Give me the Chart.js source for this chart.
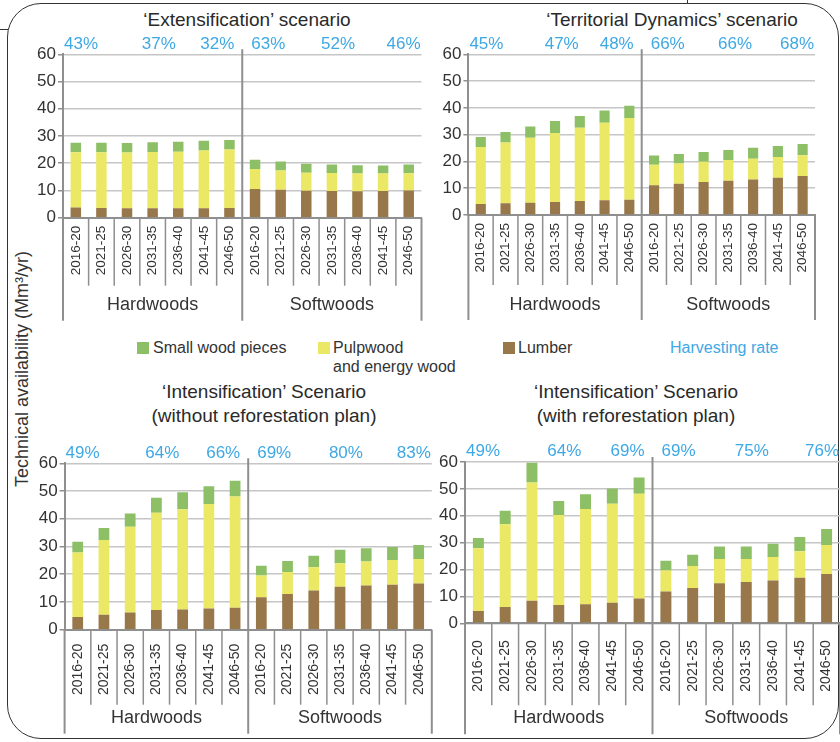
<!DOCTYPE html>
<html><head><meta charset="utf-8">
<script src="https://cdn.jsdelivr.net/npm/chart.js@4.4.1/dist/chart.umd.min.js"></script>
<style>
html,body{margin:0;padding:0;background:#fff;}
body{width:840px;height:742px;overflow:hidden;position:relative;font-family:"Liberation Sans",Arial,sans-serif;color:#333;}
canvas{position:absolute;left:0;top:0;}
.frame{position:absolute;left:7px;top:3px;width:832px;height:736px;box-sizing:border-box;border:1.5px solid #333;border-radius:34px;}
.t{position:absolute;white-space:nowrap;transform:translateX(-50%);font-size:19px;line-height:22px;color:#2a2a2a;}
.sq{position:absolute;width:12px;height:12px;}
.lt{position:absolute;white-space:nowrap;font-size:16px;line-height:18px;color:#333;}
.ytitle{position:absolute;left:22px;top:369px;white-space:nowrap;font-size:18px;color:#333;transform:translate(-50%,-50%) rotate(-90deg);}
</style>
</head><body>
<div class="frame"></div>
<div style="position:absolute;left:0;top:29px;width:8px;height:0;border-top:1.5px solid #333"></div>
<div style="position:absolute;left:687px;top:0;width:0;height:4px;border-left:1.5px solid #333"></div>

<div class="t" style="left:247px;top:9px">‘Extensification’ scenario</div>
<div class="t" style="left:672px;top:9px">‘Territorial Dynamics’ scenario</div>
<div class="t" style="left:264px;top:381px">‘Intensification’ Scenario</div>
<div class="t" style="left:264px;top:405px">(without reforestation plan)</div>
<div class="t" style="left:636px;top:381px">‘Intensification’ Scenario</div>
<div class="t" style="left:636px;top:405px">(with reforestation plan)</div>

<div class="ytitle">Technical availability (Mm³/yr)</div>

<div id="legend"></div>

<canvas id="c1" width="840" height="742"></canvas>
<canvas id="c2" width="840" height="742"></canvas>
<canvas id="c3" width="840" height="742"></canvas>
<canvas id="c4" width="840" height="742"></canvas>

<script>
// ---------- DATA ----------
const periods = ['2016-20','2021-25','2026-30','2031-35','2036-40','2041-45','2046-50'];
const woodGroups = ['Hardwoods','Softwoods'];
const seriesNames = ['Lumber','Pulpwood and energy wood','Small wood pieces'];
const legendLabels = ['Small wood pieces','Pulpwood','and energy wood','Lumber','Harvesting rate'];

// 'Extensification' scenario (7 hardwood periods, then 7 softwood periods)
const extLumber = [3.7,3.6,3.5,3.5,3.5,3.5,3.6, 10.5,10.3,9.9,9.8,9.7,9.8,10.0];
const extPulp   = [20.3,20.4,20.4,20.6,20.7,21.2,21.4, 7.4,7.0,6.6,6.6,6.5,6.4,6.3];
const extSmall  = [3.5,3.5,3.5,3.6,3.7,3.6,3.5, 3.4,3.3,3.3,3.1,3.1,3.0,3.2];
const extRates  = ['43%','37%','32%','63%','52%','46%'];

// 'Territorial Dynamics' scenario
const terLumber = [4.1,4.4,4.6,4.9,5.2,5.5,5.7, 11.1,11.7,12.3,12.8,13.3,13.9,14.6];
const terPulp   = [21.3,22.7,24.2,25.7,27.4,28.9,30.5, 7.7,7.5,7.6,7.7,7.7,7.8,7.7];
const terSmall  = [3.7,3.9,4.2,4.5,4.4,4.6,4.6, 3.4,3.6,3.6,3.8,4.1,4.1,4.2];
const terRates  = ['45%','47%','48%','66%','66%','68%'];

// 'Intensification' scenario (without reforestation plan)
const intLumber = [4.6,5.4,6.2,7.1,7.3,7.6,7.9, 11.7,12.9,14.1,15.5,15.9,16.2,16.7];
const intPulp   = [23.2,26.9,30.9,35.1,36.1,37.7,40.1, 7.8,7.9,8.4,8.5,8.7,8.9,8.8];
const intSmall  = [3.9,4.4,4.8,5.4,6.2,6.4,5.7, 3.6,4.0,4.2,4.8,4.8,4.7,5.0];
const intRates  = ['49%','64%','66%','69%','80%','83%'];

// 'Intensification' scenario (with reforestation plan)
const refLumber = [4.6,6.1,8.4,6.8,7.1,7.6,9.2, 11.8,13.1,14.9,15.4,15.9,16.9,18.3];
const refPulp   = [23.3,30.7,44.0,33.5,35.4,36.9,39.0, 7.8,8.2,9.0,8.5,8.8,9.9,10.8];
const refSmall  = [3.8,5.1,7.3,5.2,5.5,5.6,6.0, 3.7,4.2,4.7,4.7,4.9,5.3,6.0];
const refRates  = ['49%','64%','69%','69%','75%','76%'];

const yTicks = [0,10,20,30,40,50,60];

// ---------- STYLE ----------
const COLORS = {lumber:'#98774a', pulp:'#ebe866', small:'#8cbf66', rate:'#3ea8e5', text:'#333'};
const FONT = '"Liberation Sans", Arial, sans-serif';
Chart.defaults.font.family = FONT;
Chart.defaults.color = COLORS.text;

// legend (HTML)
(function(){
  const lg = document.getElementById('legend');
  const items = [
    {sq:[137,342,COLORS.small]},{txt:[153,339,legendLabels[0]]},
    {sq:[318,342,COLORS.pulp]},{txt:[333,339,legendLabels[1]]},{txt:[333,358,legendLabels[2]]},
    {sq:[503,342,COLORS.lumber]},{txt:[518,339,legendLabels[3]]},
    {txt:[670,339,legendLabels[4],COLORS.rate]}
  ];
  items.forEach(it=>{
    const d=document.createElement('div');
    if(it.sq){d.className='sq';d.style.left=it.sq[0]+'px';d.style.top=it.sq[1]+'px';d.style.background=it.sq[2];}
    else{d.className='lt';d.style.left=it.txt[0]+'px';d.style.top=it.txt[1]+'px';d.textContent=it.txt[2];if(it.txt[3])d.style.color=it.txt[3];}
    lg.appendChild(d);
  });
})();

const decorPlugin = {
  id:'decor',
  afterDraw(chart, args, o){
    const {ctx, chartArea:ca} = chart;
    const x = chart.scales.x;
    const n = chart.data.labels.length;
    const half = (x.getPixelForValue(1) - x.getPixelForValue(0))/2;
    const edge = i => x.getPixelForValue(i) - half;
    ctx.save();
    ctx.strokeStyle = '#8f8f8f';
    const line=(x1,y1,x2,y2,w)=>{ctx.lineWidth=w;ctx.beginPath();ctx.moveTo(x1,y1);ctx.lineTo(x2,y2);ctx.stroke();};
    for(let i=1;i<n;i++){ if(i===7) continue; line(edge(i),ca.bottom,edge(i),ca.bottom+o.catLen,1.5); }
    line(ca.left, ca.bottom, ca.left, ca.bottom+o.grpLen, 2);
    line(edge(7), ca.top-5, edge(7), ca.bottom+o.grpLen, 2);
    line(edge(n-1)+2*half, ca.bottom, edge(n-1)+2*half, ca.bottom+o.grpLen, 2);
    // group labels
    ctx.fillStyle = COLORS.text;
    ctx.font = '18px '+FONT;
    ctx.textAlign='center'; ctx.textBaseline='middle';
    woodGroups.forEach((g,k)=>{
      const cx = (edge(k*7) + edge(k*7+6)+2*half)/2;
      ctx.fillText(g, cx, ca.bottom+o.grpDy);
    });
    // harvesting rates
    ctx.fillStyle = COLORS.rate;
    ctx.font = '17px '+FONT;
    const yy = ca.top + o.rateDy;
    for(let g=0; g<2; g++){
      const r = o.rates.slice(g*3, g*3+3);
      const s = g*7;
      ctx.textAlign='left';
      ctx.fillText(r[0], edge(s) + (g===0?1:9), yy);
      ctx.fillText(r[1], edge(s+3) + 2, yy);
      ctx.textAlign='right';
      ctx.fillText(r[2], edge(s+6) + 2*half - (g===0?8:1), yy);
    }
    ctx.restore();
  }
};

function makePanel(id, lumber, pulp, small, rates, area, cfg){
  const labels = periods.concat(periods);
  new Chart(document.getElementById(id), {
    type:'bar',
    data:{ labels, datasets:[
      {label:seriesNames[0], data:lumber, backgroundColor:COLORS.lumber},
      {label:seriesNames[1], data:pulp, backgroundColor:COLORS.pulp},
      {label:seriesNames[2], data:small, backgroundColor:COLORS.small}
    ]},
    options:{
      responsive:false, animation:false, devicePixelRatio:1,
      layout:{padding:{left:0, top:area.top, right:840-area.right, bottom:0}},
      datasets:{bar:{barPercentage:0.41, categoryPercentage:1, borderWidth:0}},
      plugins:{legend:{display:false}, tooltip:{enabled:false},
        decor:{rates, catLen:cfg.catLen, grpLen:cfg.grpLen, grpDy:cfg.grpDy, rateDy:cfg.rateDy}},
      scales:{
        x:{stacked:true, offset:true,
           grid:{display:false, drawTicks:false},
           border:{display:true, color:'#8f8f8f', width:2},
           ticks:{autoSkip:false, minRotation:90, maxRotation:90, padding:cfg.tickPad,
                  font:{size:cfg.tickFont}, color:'#333'},
           afterFit:s=>{s.height = 742 - area.bottom; s.paddingLeft=0; s.paddingRight=0;}},
        y:{stacked:true, min:0, max:60,
           afterBuildTicks:s=>{s.ticks = yTicks.map(v=>({value:v}));},
           grid:{color:'#c6c6c6', lineWidth:1.5, tickLength:5, tickColor:'#8f8f8f'},
           border:{display:true, color:'#8f8f8f', width:2},
           ticks:{padding:2, font:{size:17}, color:'#333'},
           afterFit:s=>{s.width = area.left; s.paddingTop=0; s.paddingBottom=0;}}
      }
    },
    plugins:[decorPlugin]
  });
}

makePanel('c1', extLumber, extPulp, extSmall, extRates,
  {left:63, right:421.5, top:54.3, bottom:217.7},
  {catLen:68, grpLen:103, grpDy:87, rateDy:-10, tickPad:8, tickFont:13.5});
makePanel('c2', terLumber, terPulp, terSmall, terRates,
  {left:468.4, right:815, top:54.3, bottom:215},
  {catLen:70, grpLen:105, grpDy:90, rateDy:-10, tickPad:8, tickFont:13.5});
makePanel('c3', intLumber, intPulp, intSmall, intRates,
  {left:64.6, right:431.8, top:463.3, bottom:629.7},
  {catLen:75, grpLen:104, grpDy:88, rateDy:-10, tickPad:14, tickFont:14});
makePanel('c4', refLumber, refPulp, refSmall, refRates,
  {left:465, right:840, top:462, bottom:623.3},
  {catLen:82, grpLen:111, grpDy:95, rateDy:-11, tickPad:17, tickFont:14});
</script>
</body></html>
